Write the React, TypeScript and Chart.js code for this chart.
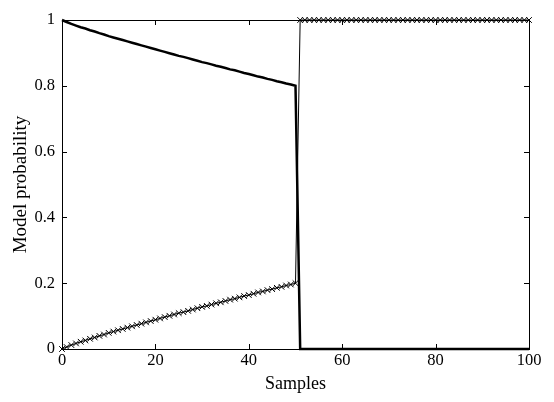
import React, { useEffect, useRef } from "react";
import { Chart, registerables } from "chart.js";

Chart.register(...registerables);

const xTicks = [0, 20, 40, 60, 80, 100];
const yTicks = [0, 0.2, 0.4, 0.6, 0.8, 1];

// Model 1 probability (solid line), samples 0..100
const model1: number[] = [
  1, 0.994, 0.988, 0.983, 0.978, 0.974, 0.969, 0.965, 0.960, 0.956,
  0.951, 0.947, 0.943, 0.939, 0.935, 0.931, 0.927, 0.923, 0.919, 0.915,
  0.911, 0.907, 0.903, 0.899, 0.895, 0.891, 0.888, 0.884, 0.880, 0.876,
  0.872, 0.869, 0.865, 0.861, 0.858, 0.854, 0.850, 0.847, 0.843, 0.839,
  0.836, 0.832, 0.828, 0.825, 0.821, 0.818, 0.814, 0.811, 0.807, 0.804,
  0.800,
  0, 0, 0, 0, 0, 0, 0, 0, 0, 0,
  0, 0, 0, 0, 0, 0, 0, 0, 0, 0,
  0, 0, 0, 0, 0, 0, 0, 0, 0, 0,
  0, 0, 0, 0, 0, 0, 0, 0, 0, 0,
  0, 0, 0, 0, 0, 0, 0, 0, 0, 0,
];

// Model 2 probability (x markers), samples 0..100
const model2: number[] = [
  0, 0.006, 0.012, 0.017, 0.022, 0.026, 0.031, 0.035, 0.040, 0.044,
  0.049, 0.053, 0.057, 0.061, 0.065, 0.069, 0.073, 0.077, 0.081, 0.085,
  0.089, 0.093, 0.097, 0.101, 0.105, 0.109, 0.112, 0.116, 0.120, 0.124,
  0.128, 0.131, 0.135, 0.139, 0.142, 0.146, 0.150, 0.153, 0.157, 0.161,
  0.164, 0.168, 0.172, 0.175, 0.179, 0.182, 0.186, 0.189, 0.193, 0.196,
  0.200,
  1, 1, 1, 1, 1, 1, 1, 1, 1, 1,
  1, 1, 1, 1, 1, 1, 1, 1, 1, 1,
  1, 1, 1, 1, 1, 1, 1, 1, 1, 1,
  1, 1, 1, 1, 1, 1, 1, 1, 1, 1,
  1, 1, 1, 1, 1, 1, 1, 1, 1, 1,
];

const FONT = "'Liberation Serif', 'Times New Roman', serif";

const boxPlugin = {
  id: "matlabBox",
  afterDraw(chart: any) {
    const { ctx, chartArea: a, scales } = chart;
    ctx.save();
    ctx.strokeStyle = "#000";
    ctx.lineWidth = 1;
    ctx.strokeRect(Math.round(a.left) + 0.5, Math.round(a.top) + 0.5, Math.round(a.right - a.left), Math.round(a.bottom - a.top));
    const L = 5;
    ctx.beginPath();
    for (const v of xTicks) {
      const px = Math.round(scales.x.getPixelForValue(v)) + 0.5;
      ctx.moveTo(px, a.bottom);
      ctx.lineTo(px, a.bottom - L);
      ctx.moveTo(px, a.top);
      ctx.lineTo(px, a.top + L);
    }
    for (const v of yTicks) {
      const py = Math.round(scales.y.getPixelForValue(v)) + 0.5;
      ctx.moveTo(a.left, py);
      ctx.lineTo(a.left + L, py);
      ctx.moveTo(a.right, py);
      ctx.lineTo(a.right - L, py);
    }
    ctx.stroke();
    ctx.restore();
  },
};

export default function App() {
  const ref = useRef<HTMLCanvasElement | null>(null);
  useEffect(() => {
    document.body.style.margin = "0";
    const d1 = model1.map((y, i) => ({ x: i, y }));
    const d2 = model2.map((y, i) => ({ x: i, y }));
    const chart = new Chart(ref.current as HTMLCanvasElement, {
      type: "line",
      data: {
        datasets: [
          {
            label: "Model 1",
            data: d1,
            borderColor: "#000",
            borderWidth: 2.5,
            pointRadius: 0,
            tension: 0,
            clip: 6,
          } as any,
          {
            label: "Model 2",
            data: d2,
            borderColor: "#000",
            borderWidth: 1,
            pointStyle: "crossRot",
            pointRadius: 4,
            pointBorderWidth: 1,
            pointBorderColor: "#000",
            tension: 0,
            clip: 6,
          } as any,
        ],
      },
      options: {
        animation: false,
        responsive: false,
        maintainAspectRatio: false,
        layout: { padding: { top: 20, right: 25, left: 0, bottom: 0 } },
        plugins: { legend: { display: false }, tooltip: { enabled: false } },
        scales: {
          x: {
            type: "linear",
            min: 0,
            max: 100,
            grid: { display: false, drawTicks: false, tickLength: 0 },
            border: { display: false },
            afterFit: (s: any) => { s.height = 53; },
            afterBuildTicks: (s: any) => { s.ticks = xTicks.map((v) => ({ value: v })); },
            ticks: { color: "#000", font: { family: FONT, size: 16.5 }, padding: 2, maxRotation: 0, callback: (v: any) => String(v) },
            title: { display: true, text: "Samples", color: "#000", font: { family: FONT, size: 18 }, padding: { top: 0, bottom: 7 } },
          },
          y: {
            type: "linear",
            min: 0,
            max: 1,
            grid: { display: false, drawTicks: false, tickLength: 0 },
            border: { display: false },
            afterFit: (s: any) => { s.width = 62; },
            afterBuildTicks: (s: any) => { s.ticks = yTicks.map((v) => ({ value: v })); },
            ticks: { color: "#000", font: { family: FONT, size: 16.5 }, padding: 7, callback: (v: any) => String(v) },
            title: { display: true, text: "Model probability", color: "#000", font: { family: FONT, size: 19 }, padding: { top: 10, bottom: 0 } },
          },
        },
      },
      plugins: [boxPlugin],
    });
    return () => chart.destroy();
  }, []);
  return (
    <div style={{ width: 554, height: 402, background: "#fff" }}>
      <canvas ref={ref} width={554} height={402} style={{ display: "block" }} />
    </div>
  );
}
